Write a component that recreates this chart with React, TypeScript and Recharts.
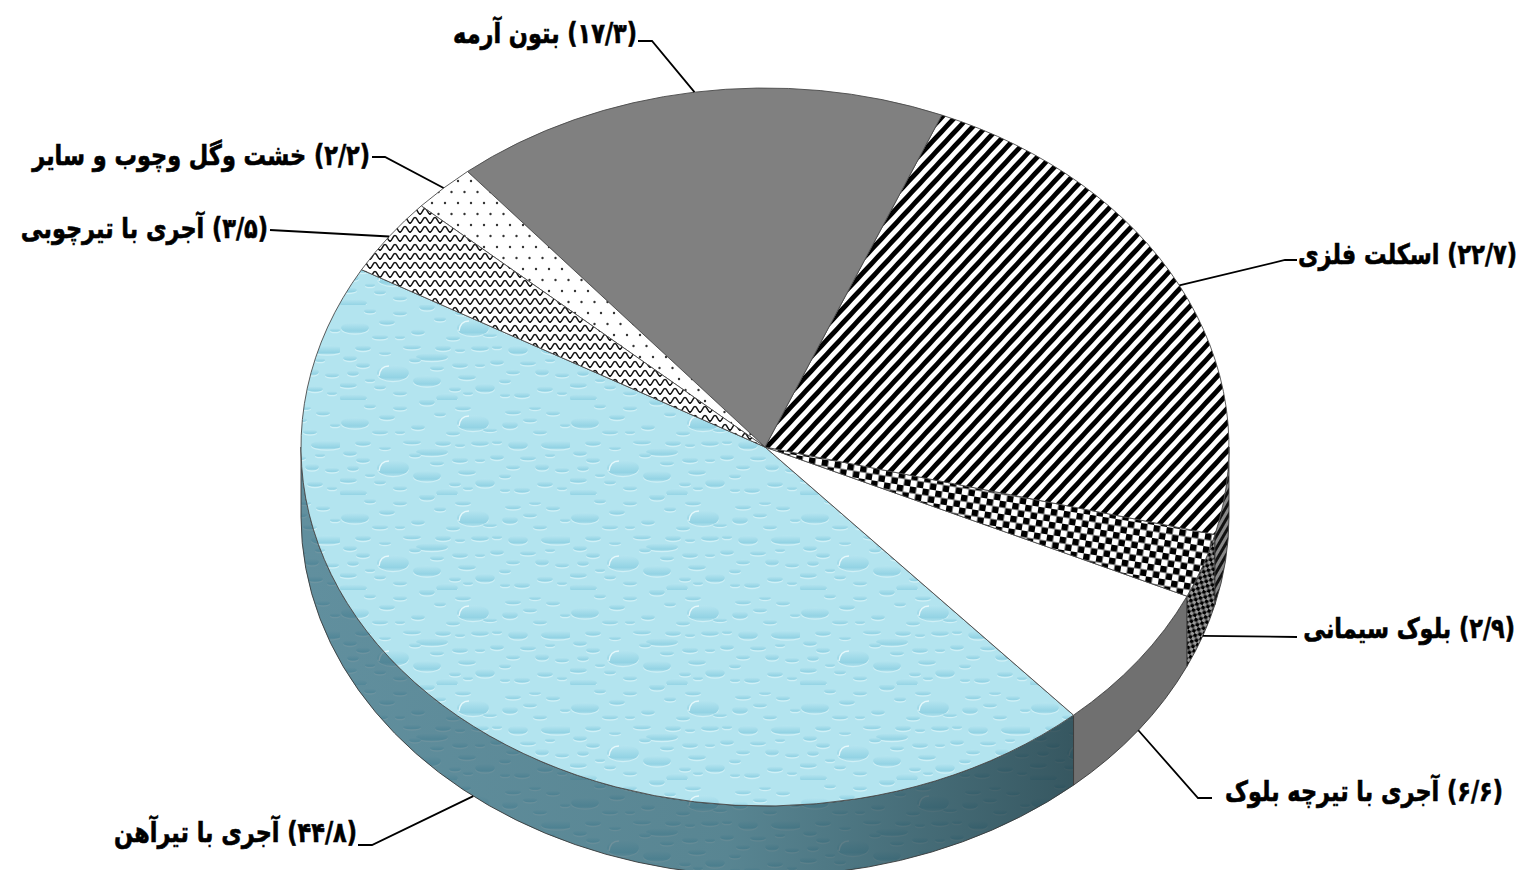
import React from "react";
import { PieChart, Pie } from "recharts";

const categories = [
  "آجری با تیرآهن",
  "آجری با تیرچه بلوک",
  "بلوک سیمانی",
  "اسکلت فلزی",
  "بتون آرمه",
  "خشت وگل وچوب و سایر",
  "آجری با تیرچوبی",
];
const shares = [44.8, 6.6, 2.9, 22.7, 17.3, 2.2, 3.5];
const faceFills = ["url(#drops)", "#ffffff", "url(#check)", "url(#stripes)", "#808080", "url(#dotsP)", "url(#zig)"];
const wallFills = ["url(#drops)", "#707070", "url(#checkDark)", "url(#stripesDark)", "#5a5a5a", "#999", "#777"];

const tableRows = categories.map((name, i) => ({ name, value: shares[i], fill: faceFills[i], wallFill: wallFills[i] }));

// Texture only: one tile of water drops [x, y, rx, ry]
const tileDrops = [
  [133, 23, 16, 8], [53, 68, 16, 8], [15, 23, 14, 5.5], [92, 52, 16, 4], [87, 76, 14, 5.5], [217, 45, 16, 4.5],
  [178, 45, 10, 4.5], [145, 83, 10, 4.5], [107, 93, 11, 4.5], [13, 93, 14, 4], [170, 25, 8, 4], [127, 72, 9, 3],
  [47, 17, 8, 3], [78, 27, 7, 3], [40, 32, 8, 2.5], [23, 43, 8, 3], [72, 42, 9, 2.5], [103, 43, 8, 3],
  [120, 60, 8, 3], [97, 63, 7, 2.5], [10, 53, 7, 3], [13, 68, 6, 3], [8, 80, 9, 3], [87, 2, 8, 3.5],
  [190, 20, 7, 2.5], [202, 67, 7, 3.5], [188, 58, 8, 2.5], [182, 90, 8, 3], [157, 57, 7, 3], [173, 67, 7, 2.5],
  [150, 30, 7, 2], [140, 43, 9, 3], [113, 33, 7, 2.5], [213, 13, 7, 2.5], [173, 12, 8, 2.5], [123, 8, 8, 2.5],
  [23, 60, 7, 3], [60, 88, 7, 2.5], [40, 82, 6, 2.5], [165, 76, 6, 2.5], [205, 84, 8, 3], [222, 70, 7, 2.5],
  [60, 8, 7, 2.5], [30, 6, 6, 2.5], [100, 14, 6, 2.5], [60, 32, 5, 2], [120, 45, 5, 2], [157, 42, 5, 2],
  [200, 32, 7, 2.5], [225, 25, 5, 2], [195, 8, 6, 2], [75, 55, 6, 2.5], [115, 84, 6, 2.5], [30, 75, 5, 2],
  [45, 48, 6, 2], [140, 60, 5, 2], [165, 90, 5, 2], [128, 88, 5, 2], [222, 88, 5, 2], [210, 55, 5, 2],
];

const CX = 765;
const CY = 447;
const RADIUS = 464;
const SQUASH = 359 / 464;
const DEPTH = 70;

const pt = (deg: number, r: number, cx: number, cy: number) => {
  const a = (deg * Math.PI) / 180;
  return [cx + r * Math.cos(a), cy - r * SQUASH * Math.sin(a)];
};

const FaceShape = (props: any) => {
  const { cx, cy, outerRadius: r, startAngle, endAngle, fill } = props;
  const [x1, y1] = pt(startAngle, r, cx, cy);
  const [x2, y2] = pt(endAngle, r, cx, cy);
  const large = Math.abs(endAngle - startAngle) > 180 ? 1 : 0;
  const d = `M${cx},${cy}L${x1},${y1}A${r},${r * SQUASH} 0 ${large} 0 ${x2},${y2}Z`;
  return <path d={d} fill={fill} stroke="#4a4a4a" strokeWidth={0.9} strokeLinejoin="round" />;
};

const WallShape = (props: any) => {
  const { cx, cy, outerRadius: r, startAngle, endAngle } = props;
  const wallFill = props.wallFill ?? props.payload?.wallFill;
  const a1 = Math.max(startAngle, 180);
  const a2 = Math.min(endAngle, 360);
  if (a2 <= a1) return <g />;
  const [x1, y1] = pt(a1, r, cx, cy);
  const [x2, y2] = pt(a2, r, cx, cy);
  const ry = r * SQUASH;
  const d = `M${x1},${y1}A${r},${ry} 0 0 0 ${x2},${y2}L${x2},${y2 + DEPTH}A${r},${ry} 0 0 1 ${x1},${y1 + DEPTH}Z`;
  const isBlue = wallFill === "url(#drops)";
  return (
    <g>
      <path d={d} fill={wallFill} />
      {isBlue && <path d={d} fill="url(#wallShade)" />}
      <path d={d} fill="none" stroke="#3a3a3a" strokeWidth={0.9} />
    </g>
  );
};

// Leader-line routes: elbow point, text end point, and the right edge / centre of each label
const labelLayout = [
  { elbow: [372, 845], end: [358, 845], right: 357, mid: 832 },
  { elbow: [1198, 798], end: [1212, 798], right: 1503, mid: 791 },
  { elbow: [1297, 637], end: [1297, 637], right: 1515, mid: 628 },
  { elbow: [1285, 260], end: [1297, 260], right: 1517, mid: 254 },
  { elbow: [652, 41], end: [638, 41], right: 637, mid: 33 },
  { elbow: [385, 157], end: [372, 157], right: 370, mid: 155 },
  { elbow: [270, 230], end: [270, 230], right: 268, mid: 228 },
];

const persianDigits = "۰۱۲۳۴۵۶۷۸۹";
const toPersian = (v: number) =>
  v.toFixed(1).replace(".", "/").replace(/\d/g, (c) => persianDigits[Number(c)]);

const renderLabel = (props: any) => {
  const { cx, cy, outerRadius: r, midAngle, index } = props;
  const [ax, ay0] = pt(midAngle, r, cx, cy);
  const front = Math.sin((midAngle * Math.PI) / 180) < 0;
  const ay = front ? ay0 + DEPTH : ay0;
  const box = labelLayout[index];
  return (
    <g>
      <polyline
        points={`${ax},${ay} ${box.elbow[0]},${box.elbow[1]} ${box.end[0]},${box.end[1]}`}
        fill="none"
        stroke="#000"
        strokeWidth={1.8}
      />
      <text
        transform={`translate(${box.right},${box.mid}) scale(1,1.25)`}
        textAnchor="start"
        dominantBaseline="central"
        fontFamily="'DejaVu Sans', sans-serif"
        fontWeight={700}
        fontSize={22.4}
        fill="#000"
        stroke="#000"
        strokeWidth={0.5}
        style={{ direction: "rtl" }}
      >
        {`(${toPersian(shares[index])}) ${categories[index]}`}
      </text>
    </g>
  );
};

const Patterns = () => (
  <defs>
    <linearGradient id="dropGrad" x1="0" y1="0" x2="0" y2="1">
      <stop offset="0%" stopColor="#b6e5f0" />
      <stop offset="78%" stopColor="#93d3e4" />
      <stop offset="100%" stopColor="#aee0ec" />
    </linearGradient>
    <linearGradient id="wallShade" gradientUnits="userSpaceOnUse" x1="300" y1="0" x2="1075" y2="0">
      <stop offset="0%" stopColor="#1e4a5c" stopOpacity={0.55} />
      <stop offset="55%" stopColor="#1c4654" stopOpacity={0.6} />
      <stop offset="100%" stopColor="#132f38" stopOpacity={0.78} />
    </linearGradient>
    <filter id="soft" x="-5%" y="-5%" width="110%" height="110%">
      <feGaussianBlur stdDeviation="0.55" />
    </filter>
    <pattern id="drops" patternUnits="userSpaceOnUse" x={340} y={400} width={230} height={95}>
      <rect width={230} height={95} fill="#b3e4ef" />
      <g filter="url(#soft)">
        {tileDrops.map(([x, y, rx, ry], i) => (
          <g key={i}>
            <ellipse cx={x} cy={y + 1.2} rx={rx} ry={ry} fill="#d0f0f6" />
            <ellipse cx={x} cy={y} rx={rx} ry={ry} fill="url(#dropGrad)" />
            {rx >= 16 && ry >= 8 && (
              <path
                d={`M${x - rx + 2},${y + 3} Q${x - rx + 3},${y - ry + 1} ${x - 4},${y - ry + 1}`}
                fill="none"
                stroke="#e6f8fb"
                strokeWidth={1.4}
              />
            )}
          </g>
        ))}
      </g>
    </pattern>
    <pattern id="stripes" patternUnits="userSpaceOnUse" width={9.7} height={9.7} patternTransform="rotate(-47)">
      <rect width={9.7} height={9.7} fill="#fff" />
      <rect width={9.7} height={4.85} fill="#000" />
    </pattern>
    <pattern id="stripesDark" patternUnits="userSpaceOnUse" width={6} height={6} patternTransform="rotate(-60)">
      <rect width={6} height={6} fill="#888" />
      <rect width={6} height={3} fill="#111" />
    </pattern>
    <pattern id="check" patternUnits="userSpaceOnUse" width={13} height={13} patternTransform="rotate(9)">
      <rect width={13} height={13} fill="#fff" />
      <rect width={6.5} height={6.5} fill="#000" />
      <rect x={6.5} y={6.5} width={6.5} height={6.5} fill="#000" />
    </pattern>
    <pattern id="checkDark" patternUnits="userSpaceOnUse" width={7} height={7} patternTransform="rotate(30)">
      <rect width={7} height={7} fill="#999" />
      <rect width={3.5} height={3.5} fill="#000" />
      <rect x={3.5} y={3.5} width={3.5} height={3.5} fill="#000" />
    </pattern>
    <pattern id="dotsP" patternUnits="userSpaceOnUse" width={13} height={22}>
      <rect width={13} height={22} fill="#fff" />
      <circle cx={3} cy={5} r={1.2} fill="#333" />
      <circle cx={9.5} cy={16} r={1.2} fill="#333" />
    </pattern>
    <pattern id="zig" patternUnits="userSpaceOnUse" width={10} height={9}>
      <rect width={10} height={9} fill="#fff" />
      <path d="M0,7 C2.5,7 2.5,1.5 5,1.5 C7.5,1.5 7.5,7 10,7" fill="none" stroke="#111" strokeWidth={1.6} />
      <circle cx={0} cy={7} r={1.1} fill="#111" />
      <circle cx={10} cy={7} r={1.1} fill="#111" />
    </pattern>
  </defs>
);

export default function App() {
  return (
    <div style={{ position: "absolute", left: 0, top: 0, width: 1526, height: 870, overflow: "hidden", background: "#fff" }}>
      <PieChart width={1526} height={870} margin={{ top: 0, right: 0, bottom: 0, left: 0 }}>
        <Patterns />
        <Pie
          data={tableRows}
          dataKey="value"
          nameKey="name"
          cx={CX}
          cy={CY}
          outerRadius={RADIUS}
          startAngle={150.4}
          endAngle={510.4}
          paddingAngle={0}
          shape={WallShape}
          isAnimationActive={false}
        />
        <Pie
          data={tableRows}
          dataKey="value"
          nameKey="name"
          cx={CX}
          cy={CY}
          outerRadius={RADIUS}
          startAngle={150.4}
          endAngle={510.4}
          paddingAngle={0}
          shape={FaceShape}
          label={renderLabel}
          labelLine={false}
          isAnimationActive={false}
        />
      </PieChart>
    </div>
  );
}
